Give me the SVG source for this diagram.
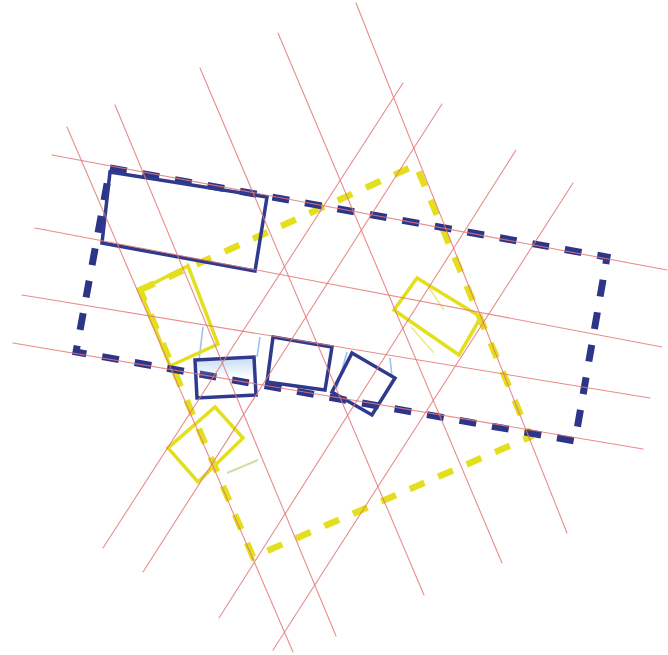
<svg xmlns="http://www.w3.org/2000/svg" width="668" height="655" viewBox="0 0 668 655">
<style>
.grid line{stroke:#E47878;stroke-width:1.1;stroke-opacity:0.85;stroke-linecap:round}
.navyDash{fill:none;stroke:#2D3588;stroke-width:7;stroke-dasharray:17 16;stroke-linejoin:miter}
.yelDash{fill:none;stroke:#E3DF1C;stroke-width:6.5;stroke-dasharray:16 15}
.navy{fill:none;stroke:#2F3A8C;stroke-width:3.5;stroke-linejoin:miter}
.yel{fill:none;stroke:#E3DF1C;stroke-width:3.5}
.ghostB{fill:none;stroke:#9CC2EC;stroke-width:1.6}
.ghostY{fill:none;stroke:#EDE98C;stroke-width:1.6}
.ghostG{fill:none;stroke:#C9E2A4;stroke-width:2}
</style>
<defs>
<linearGradient id="s1fill" x1="0" y1="0" x2="0" y2="1">
<stop offset="0" stop-color="#A9CBF0" stop-opacity="0.7"/>
<stop offset="1" stop-color="#A9CBF0" stop-opacity="0"/>
</linearGradient>
</defs>
<rect width="668" height="655" fill="#FFFFFF"/>

<g id="yellow-dashed-frame">
<polygon class="yelDash" points="140,290 416,165 530,437 253,557"/>
</g>

<g id="ghost-lines">
<line class="ghostB" x1="203" y1="327" x2="199" y2="360"/>
<line class="ghostB" x1="260" y1="337" x2="257" y2="357"/>
<line class="ghostB" x1="347" y1="352" x2="337" y2="388"/>
<line class="ghostB" x1="390" y1="358" x2="392" y2="377"/>
<line class="ghostY" x1="187" y1="263" x2="217" y2="344"/>
<line class="ghostY" x1="424" y1="280" x2="444" y2="310"/>
<line class="ghostY" x1="411" y1="327" x2="434" y2="353"/>
<line class="ghostG" x1="227" y1="473" x2="258" y2="460"/>
</g>

<g id="yellow-rect-left">
<polygon class="yel" points="140,290 188,266 218,344 170,366"/>
</g>
<g id="yellow-rect-lower">
<polygon class="yel" points="215,407 243,438 198,482 168,448"/>
</g>
<g id="yellow-rect-right">
<polygon class="yel" points="417,278 481,317 459,355 394,310"/>
</g>

<g id="navy-dashed-frame">
<polygon class="navyDash" points="110,168 607,257 575,441 76,352"/>
</g>

<g id="blue-rect-large">
<polygon class="navy" points="110,172 267,197 255,271 102,243"/>
</g>
<g id="blue-rect-s1">
<polygon points="197,360 253,357 254,376 198,378" fill="url(#s1fill)"/>
<polygon class="navy" points="195,360 254,357 256,395 197,398"/>
</g>
<g id="blue-rect-s2">
<polygon class="navy" points="273,337 332,347 325,390 267,382"/>
</g>
<g id="blue-rect-s3">
<polygon class="navy" points="352,353 395,378 372,415 332,392"/>
</g>

<g id="connectors" class="grid">
<line x1="52" y1="155" x2="667" y2="270"/>
<line x1="35" y1="228" x2="662" y2="347"/>
<line x1="22" y1="295" x2="650" y2="398"/>
<line x1="13" y1="343" x2="643" y2="449"/>
<line x1="67" y1="127" x2="293" y2="652"/>
<line x1="115" y1="105" x2="336" y2="636"/>
<line x1="200" y1="68" x2="424" y2="595"/>
<line x1="278" y1="33" x2="502" y2="563"/>
<line x1="356" y1="3" x2="567" y2="533"/>
<line x1="403" y1="83" x2="103" y2="548"/>
<line x1="442" y1="104" x2="143" y2="572"/>
<line x1="516" y1="150" x2="219" y2="618"/>
<line x1="573" y1="183" x2="273" y2="650"/>
</g>
</svg>
